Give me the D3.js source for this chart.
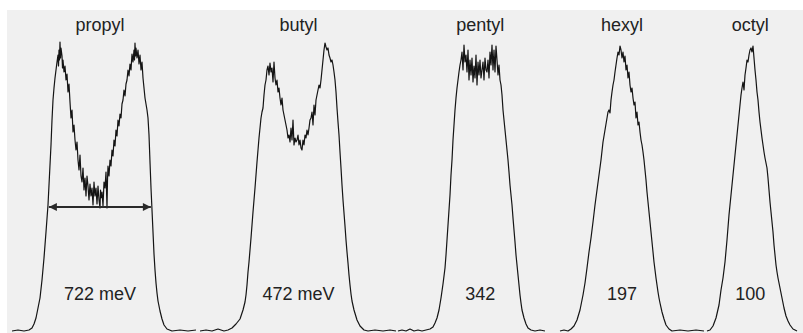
<!DOCTYPE html>
<html>
<head>
<meta charset="utf-8">
<script src="https://cdn.jsdelivr.net/npm/d3@7"></script>
<style>
  html, body { margin: 0; padding: 0; background: #ffffff; }
  svg { display: block; }
</style>
</head>
<body>
<svg id="chart" width="803" height="333"></svg>
<script>
// Photoelectron band profiles of alkyl chains: [channel, signal counts]
const propyl = [[12,0],[18,1],[24,0],[29,1],[32,3],[34,7],[36,13],[38,23],[40,33],[42,51],[44,73],[46,99],[48,126],[49,146],[50,166],[51,186],[52,211],[53,231],[54,243],[55,253],[56,261],[57,269],[58,276],[58.5,265],[59,281],[59.5,271],[60,289],[60.5,273],[61,283],[62,275],[62.5,263],[63,271],[64,259],[65,265],[66,251],[67,257],[68,239],[69,247],[70,229],[71,213],[72,221],[73,199],[74,206],[75,191],[76,181],[77,189],[78,171],[79,161],[80,176],[81,155],[82,149],[83,163],[84,141],[85,153],[86,135],[87,155],[88,145],[89,131],[90,147],[91,135],[92,143],[93,126],[94,149],[95,135],[96,143],[97,127],[98,145],[99,131],[100,123],[100.5,141],[101,133],[102,139],[103,125],[104,149],[105,143],[106,159],[107,123],[107.5,151],[108,165],[109,155],[110,171],[111,165],[112,181],[113,175],[114,191],[115,185],[116,201],[117,195],[118,211],[119,205],[120,217],[121,213],[122,227],[123,231],[124,241],[125,235],[126,247],[127,251],[128,261],[129,255],[130,267],[131,261],[132,277],[133,269],[134,281],[134.5,271],[135,288],[135.5,275],[136,283],[137,273],[138,281],[139,267],[140,276],[141,261],[142,269],[143,253],[144,243],[145,233],[146,227],[147,221],[148,213],[149,196],[150,169],[151,143],[152,121],[153,99],[154,77],[155,61],[156,48],[157,38],[158,30],[160,20],[162,12],[164,6],[167,2],[172,0],[180,1],[188,0],[196,1]];

const butyl = [[200,0],[206,1],[212,0],[218,2],[224,0],[228,1],[232,3],[236,7],[240,12],[243,21],[245,29],[246,36],[247,46],[248,59],[249,69],[250,81],[251,93],[252,106],[253,119],[254,131],[255,143],[256,156],[257,169],[258,181],[259,193],[260,203],[261,213],[262,219],[263,223],[264,236],[265,246],[266,251],[267,261],[268,265],[269,256],[270,268],[271,259],[272,263],[273,249],[274,269],[275,253],[276,246],[277,251],[278,239],[279,243],[280,233],[281,226],[282,233],[283,221],[284,216],[285,211],[286,206],[287,201],[288,193],[289,196],[290,189],[291,203],[292,191],[293,211],[294,186],[295,193],[296,189],[297,191],[298,196],[299,186],[300,191],[301,183],[302,181],[303,191],[304,186],[305,196],[306,193],[307,201],[308,196],[309,203],[310,211],[311,213],[312,219],[313,206],[314,226],[315,216],[316,231],[317,236],[318,241],[319,246],[320,243],[321,251],[322,261],[323,271],[324,281],[325,288],[326,284],[327,281],[328,283],[329,276],[330,273],[331,269],[332,271],[333,266],[334,259],[335,251],[336,239],[337,223],[338,209],[339,196],[340,179],[341,163],[342,146],[343,131],[344,118],[345,105],[346,91],[347,79],[348,68],[349,56],[350,46],[351,37],[352,30],[354,21],[357,11],[360,5],[364,1],[368,0],[375,1],[383,0],[390,1],[396,0]];

const pentyl = [[398,0],[402,1],[406,0],[410,2],[414,0],[418,1],[422,0],[426,1],[430,2],[433,4],[435,8],[437,13],[439,21],[441,33],[443,47],[445,63],[446,76],[447,91],[448,106],[449,121],[450,136],[451,156],[452,171],[453,191],[454,206],[455,221],[456,233],[457,243],[458,251],[459,259],[460,266],[461,271],[462,279],[463,261],[464,286],[465,269],[466,276],[467,259],[468,281],[469,251],[470,271],[471,256],[472,273],[473,249],[474,265],[475,253],[476,276],[477,246],[478,269],[479,256],[480,271],[481,253],[482,261],[483,269],[484,251],[485,273],[486,261],[487,259],[488,271],[489,253],[490,279],[491,266],[492,286],[493,261],[494,281],[495,259],[496,285],[497,271],[498,256],[499,266],[500,251],[501,246],[502,236],[503,221],[504,211],[505,201],[506,191],[507,181],[508,171],[509,159],[510,146],[511,136],[512,126],[513,113],[514,101],[515,89],[516,76],[517,66],[518,56],[519,46],[520,36],[521,28],[522,21],[524,13],[526,7],[528,3],[531,1],[535,0],[540,1],[545,0]];

const hexyl = [[560,0],[564,1],[568,0],[571,2],[574,5],[577,11],[580,21],[583,36],[585,48],[587,63],[589,79],[591,93],[593,109],[595,126],[597,141],[599,156],[601,171],[603,189],[605,201],[607,213],[608,219],[609,221],[610,218],[611,231],[612,239],[613,246],[614,251],[615,259],[616,266],[617,273],[618,279],[619,276],[620,285],[621,281],[622,273],[623,279],[624,269],[625,275],[626,261],[627,266],[628,253],[629,259],[630,246],[631,239],[632,243],[633,233],[634,226],[635,229],[636,213],[637,219],[638,206],[639,209],[640,199],[641,191],[642,186],[643,179],[644,171],[645,161],[646,151],[647,139],[648,129],[649,119],[650,109],[651,99],[652,89],[653,79],[654,69],[655,61],[656,53],[657,46],[658,39],[659,33],[660,28],[662,19],[664,12],[666,6],[669,2],[672,0],[680,1],[688,0],[696,1],[704,0]];

const octyl = [[707,0],[710,1],[713,5],[716,13],[719,26],[721,41],[723,53],[725,69],[727,91],[729,116],[731,136],[733,156],[735,176],[737,196],[739,216],[740,226],[741,236],[742,243],[743,249],[744,241],[745,256],[746,263],[747,271],[748,269],[749,276],[750,281],[751,283],[752,279],[753,285],[754,273],[755,261],[756,251],[757,239],[758,231],[759,219],[760,209],[761,201],[762,193],[763,186],[764,179],[765,173],[766,168],[767,163],[768,153],[769,141],[770,129],[771,119],[772,109],[773,99],[774,86],[775,76],[776,66],[777,59],[778,53],[779,48],[780,43],[782,33],[784,23],[786,15],[788,10],[790,6],[793,2],[797,0]];

// Chain names and their measured band widths
const chainNames = ["propyl", "butyl", "pentyl", "hexyl", "octyl"];
const widthLabels = ["722 meV", "472 meV", "342", "197", "100"];
const spectra = [propyl, butyl, pentyl, hexyl, octyl];

// Signal level at which the propyl width arrow is drawn
const arrowLevel = 124;

const svg = d3.select("#chart");
const W = 803, H = 333;

const x = d3.scaleLinear().domain([0, 803]).range([0, W]);
const y = d3.scaleLinear().domain([0, 288]).range([331, 43]);

// Plot panel
svg.append("rect")
  .attr("x", 7).attr("y", 10)
  .attr("width", W - 7).attr("height", H - 10)
  .attr("fill", "#f0f0f0");

const line = d3.line()
  .x(d => x(d[0]))
  .y(d => y(d[1]))
  .curve(d3.curveLinear);

svg.append("g")
  .selectAll("path")
  .data(spectra)
  .join("path")
  .attr("d", line)
  .attr("fill", "none")
  .attr("stroke", "#141414")
  .attr("stroke-width", 1.2)
  .attr("stroke-linejoin", "round");

// Outer crossings of a profile at a given signal level
function crossings(series, level) {
  let left = null, right = null;
  for (let i = 1; i < series.length; i++) {
    const [x0, s0] = series[i - 1], [x1, s1] = series[i];
    if (left === null && s0 < level && s1 >= level) {
      left = x0 + (level - s0) / (s1 - s0) * (x1 - x0);
    }
  }
  for (let i = series.length - 1; i > 0; i--) {
    const [x0, s0] = series[i - 1], [x1, s1] = series[i];
    if (right === null && s0 >= level && s1 < level) {
      right = x0 + (s0 - level) / (s0 - s1) * (x1 - x0);
    }
  }
  return [left, right];
}

// Band centre taken at half maximum
const centres = spectra.map(s => {
  const peak = d3.max(s, d => d[1]);
  const [l, r] = crossings(s, peak / 2);
  return (l + r) / 2;
});

const font = "'Liberation Sans', Arial, Helvetica, sans-serif";

svg.append("g")
  .selectAll("text")
  .data(chainNames)
  .join("text")
  .attr("x", (d, i) => x(centres[i]))
  .attr("y", 31)
  .attr("text-anchor", "middle")
  .attr("font-family", font)
  .attr("font-size", 18)
  .attr("fill", "#222")
  .text(d => d);

svg.append("g")
  .selectAll("text")
  .data(widthLabels)
  .join("text")
  .attr("x", (d, i) => x(centres[i]))
  .attr("y", 300)
  .attr("text-anchor", "middle")
  .attr("font-family", font)
  .attr("font-size", 18)
  .attr("fill", "#222")
  .text(d => d);

// Double-headed width arrow across the propyl band
const defs = svg.append("defs");
defs.append("marker")
  .attr("id", "head")
  .attr("viewBox", "0 0 10 10")
  .attr("refX", 10).attr("refY", 5)
  .attr("markerWidth", 10).attr("markerHeight", 8)
  .attr("markerUnits", "userSpaceOnUse")
  .attr("orient", "auto-start-reverse")
  .append("path")
  .attr("d", "M0,0 L10,5 L0,10 Z")
  .attr("fill", "#2a2a2a");

const [aL, aR] = crossings(propyl, arrowLevel);
svg.append("line")
  .attr("x1", x(aL) + 1).attr("x2", x(aR) - 1)
  .attr("y1", y(arrowLevel)).attr("y2", y(arrowLevel))
  .attr("stroke", "#2a2a2a")
  .attr("stroke-width", 2)
  .attr("marker-start", "url(#head)")
  .attr("marker-end", "url(#head)");
</script>
</body>
</html>
